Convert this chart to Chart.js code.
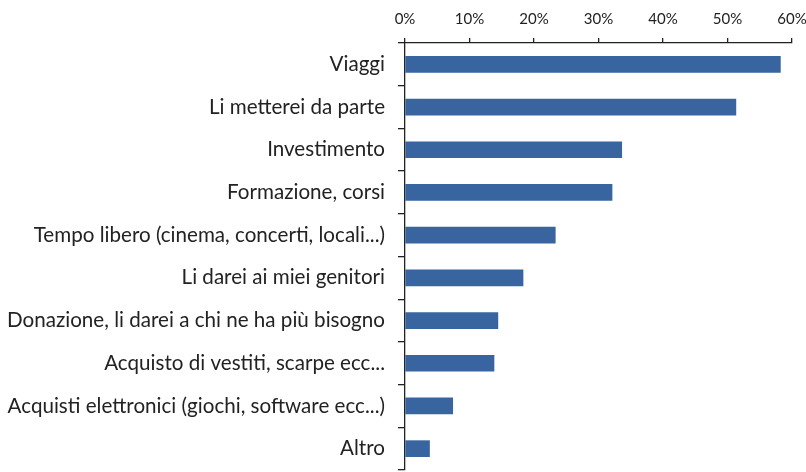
<!DOCTYPE html>
<html>
<head>
<meta charset="utf-8">
<script src="https://cdn.jsdelivr.net/npm/chart.js@4"></script>
<style>
  html, body { margin: 0; padding: 0; background: #fff; }
  #wrap { width: 806px; height: 472px; }
</style>
</head>
<body>
<div id="wrap"><canvas id="myChart" width="806" height="472"></canvas></div>
<script>
const categories = [
  'Viaggi',
  'Li metterei da parte',
  'Investimento',
  'Formazione, corsi',
  'Tempo libero (cinema, concerti, locali...)',
  'Li darei ai miei genitori',
  'Donazione, li darei a chi ne ha più bisogno',
  'Acquisto di vestiti, scarpe ecc...',
  'Acquisti elettronici (giochi, software ecc...)',
  'Altro'
];
const percentages = [58.2, 51.3, 33.6, 32.1, 23.3, 18.3, 14.4, 13.8, 7.4, 3.8];
const xTicks = [0, 10, 20, 30, 40, 50, 60];

const data = {
  labels: categories,
  datasets: [{
    data: percentages,
    backgroundColor: '#3865a0',
    borderWidth: 0,
    barThickness: 16
  }]
};

const config = {
  type: 'bar',
  data: data,
  options: {
    indexAxis: 'y',
    responsive: false,
    animation: false,
    layout: {
      padding: { top: 0, right: 0, bottom: 2, left: 4 }
    },
    plugins: {
      legend: { display: false },
      tooltip: { enabled: false }
    },
    scales: {
      x: {
        position: 'top',
        min: xTicks[0],
        max: xTicks[xTicks.length - 1],
        afterBuildTicks: function(axis) {
          axis.ticks = xTicks.map(v => ({ value: v }));
        },
        afterFit: function(axis) {
          axis.paddingRight = 14;
          axis.paddingLeft = 0;
        },
        border: { color: '#222', width: 1.3 },
        grid: {
          drawOnChartArea: false,
          color: '#222',
          tickLength: 5,
          lineWidth: 1.3
        },
        ticks: {
          callback: v => v + '%',
          color: '#222',
          padding: 10,
          maxRotation: 0,
          font: { family: 'Lato', size: 15 }
        }
      },
      y: {
        afterFit: function(axis) {
          axis.paddingTop = 0;
          axis.paddingBottom = 0;
        },
        border: { color: '#222', width: 1.3 },
        grid: {
          offset: true,
          drawOnChartArea: false,
          color: '#222',
          tickLength: 7,
          lineWidth: 1.3
        },
        ticks: {
          color: '#222',
          padding: 13,
          font: { family: 'Lato', size: 20.6 }
        }
      }
    }
  }
};

const myChart = new Chart(
  document.getElementById('myChart'),
  config
);
</script>
</body>
</html>
